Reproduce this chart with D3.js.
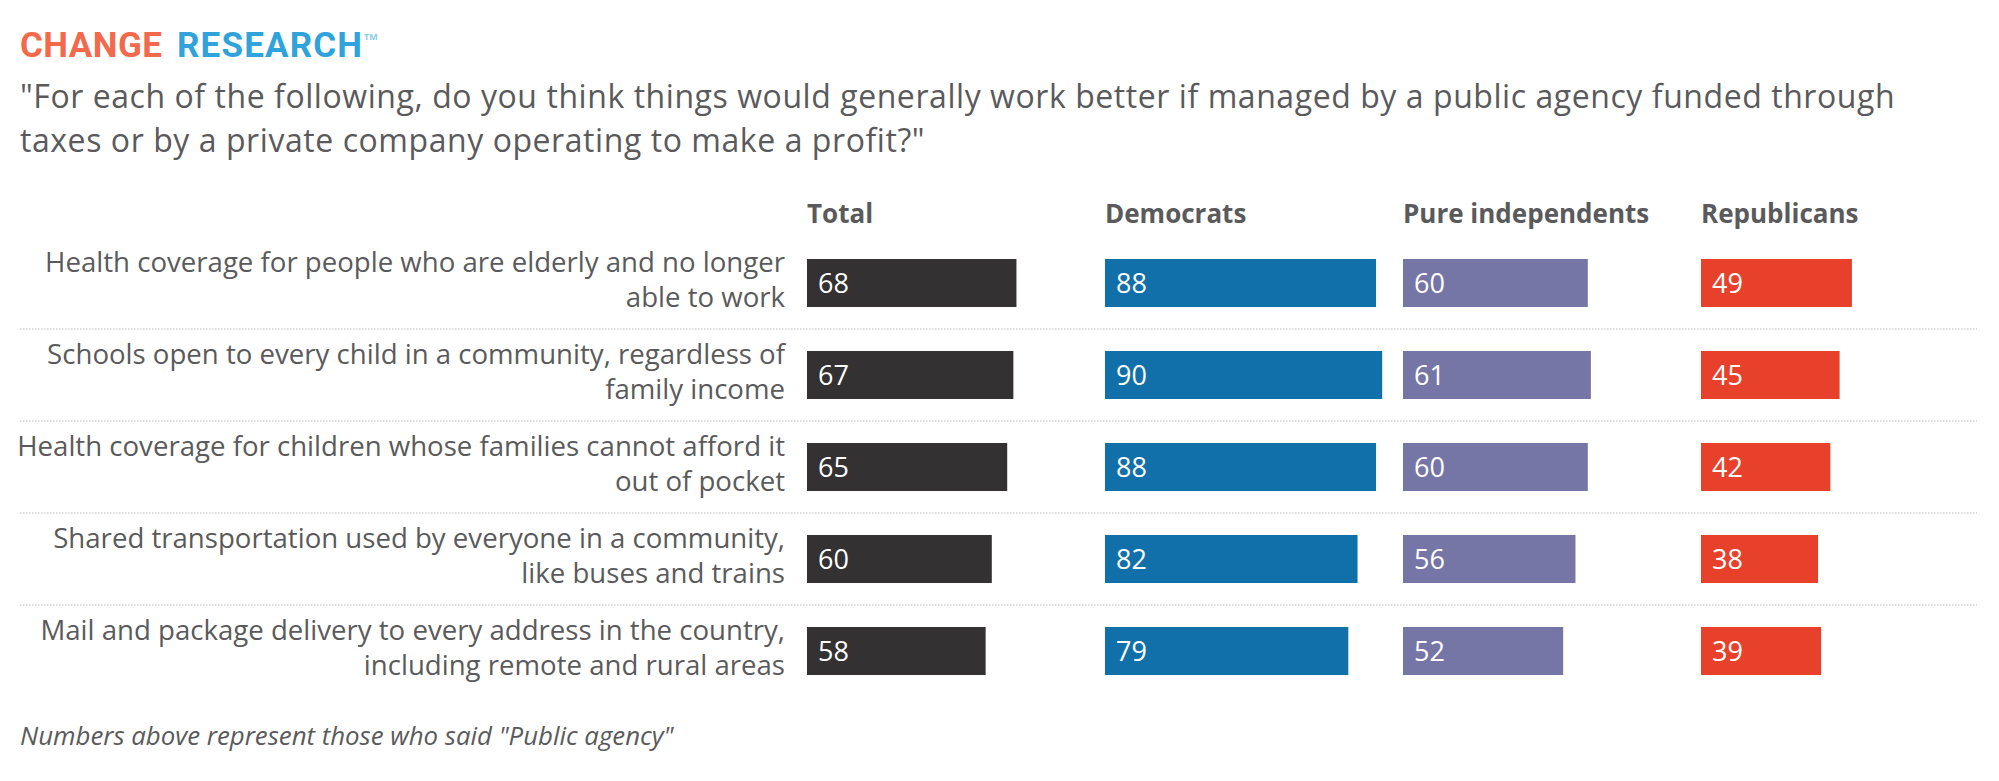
<!DOCTYPE html>
<html lang="en">
<head>
	<meta charset="UTF-8">
	<title>Public agency vs private company</title>
	<script src="https://d3js.org/d3.v7.min.js"></script>
	<style>
		body { margin: 0; background: #fff; }
		svg text { font-family: "Open Sans", Lato, sans-serif; }
	</style>
</head>
<body>
	<svg id="chart" width="1999" height="781"></svg>
	<script>
		// data
		const categories = [
			["Health coverage for people who are elderly and no longer", "able to work"],
			["Schools open to every child in a community, regardless of", "family income"],
			["Health coverage for children whose families cannot afford it", "out of pocket"],
			["Shared transportation used by everyone in a community,", "like buses and trains"],
			["Mail and package delivery to every address in the country,", "including remote and rural areas"]
		];
		const groups = ["Total", "Democrats", "Pure independents", "Republicans"];
		const totalValues = [68, 67, 65, 60, 58];
		const democratValues = [88, 90, 88, 82, 79];
		const independentValues = [60, 61, 60, 56, 52];
		const republicanValues = [49, 45, 42, 38, 39];
		const groupColors = ["#333132", "#1170aa", "#7676a6", "#e8412b"];

		const title = [
			"\"For each of the following, do you think things would generally work better if managed by a public agency funded through",
			"taxes or by a private company operating to make a profit?\""
		];
		const footnote = "Numbers above represent those who said \"Public agency\"";

		const series = [totalValues, democratValues, independentValues, republicanValues];
		const rows = categories.map((c, i) => ({ id: i, label: c }));

		const svg = d3.select("#chart");
		const textColor = "#5a5a5c";

		// logo
		const logo = svg.append("g")
			.style("font-weight", "bold")
			.style("font-size", "35px");
		logo.append("text")
			.attr("x", 20).attr("y", 57)
			.attr("textLength", 142).attr("lengthAdjust", "spacing")
			.attr("fill", "#f26a4b")
			.style("font-family", "Roboto, sans-serif")
			.text("CHANGE");
		logo.append("text")
			.attr("x", 177).attr("y", 57)
			.attr("textLength", 185).attr("lengthAdjust", "spacing")
			.attr("fill", "#2fa3da")
			.style("font-family", "Roboto, sans-serif")
			.text("RESEARCH");
		logo.append("text")
			.attr("x", 364).attr("y", 40)
			.attr("fill", "#8ccbe9")
			.style("font-size", "9px")
			.text("TM");

		// title, one text with a tspan per line
		svg.append("text")
			.attr("fill", textColor)
			.style("font-size", "32px")
			.style("letter-spacing", "0.56px")
			.selectAll("tspan")
			.data(title)
			.enter().append("tspan")
			.attr("x", 20)
			.attr("y", (d, i) => 108 + i * 44)
			.text(d => d);

		// scales
		const y = d3.scaleBand()
			.domain(rows.map(d => d.id))
			.range([237, 697])
			.paddingInner(0.478)
			.paddingOuter(0.239);

		const xGroup = d3.scaleBand()
			.domain(groups)
			.range([807, 807 + 298 * 4]);

		const x = d3.scaleLinear()
			.domain([0, 100])
			.range([0, 308]);

		// separators
		svg.append("g").selectAll("line")
			.data(rows.slice(1))
			.enter().append("line")
			.attr("x1", 20)
			.attr("x2", 1977)
			.attr("y1", d => y(d.id) - (y.step() - y.bandwidth()) / 2)
			.attr("y2", d => y(d.id) - (y.step() - y.bandwidth()) / 2)
			.attr("stroke", "#d2d2d2")
			.attr("stroke-width", 1.5)
			.attr("stroke-dasharray", "1.5,1.5");

		// column headers
		svg.append("g").selectAll("text")
			.data(groups)
			.enter().append("text")
			.attr("x", d => xGroup(d))
			.attr("y", 223)
			.attr("fill", textColor)
			.style("font-weight", "bold")
			.style("font-size", "26px")
			.text(d => d);

		// row labels
		const labels = svg.append("g").selectAll("text")
			.data(rows)
			.enter().append("text")
			.attr("text-anchor", "end")
			.attr("fill", textColor)
			.style("font-size", "27.6px");
		labels.selectAll("tspan")
			.data(d => d.label.map(t => ({ t, id: d.id })))
			.enter().append("tspan")
			.attr("x", 785)
			.attr("y", (d, i) => y(d.id) + 13 + i * 35)
			.text(d => d.t);

		// bars
		groups.forEach((g, gi) => {
			const data = rows.map(r => ({ id: r.id, value: series[gi][r.id] }));
			const col = svg.append("g").attr("class", "col");

			col.selectAll("rect")
				.data(data)
				.enter().append("rect")
				.attr("x", xGroup(g))
				.attr("y", d => y(d.id))
				.attr("width", d => x(d.value))
				.attr("height", y.bandwidth())
				.attr("fill", groupColors[gi]);

			col.selectAll("text")
				.data(data)
				.enter().append("text")
				.attr("x", xGroup(g) + 11)
				.attr("y", d => y(d.id) + y.bandwidth() / 2 + 10)
				.attr("fill", "white")
				.style("font-size", "27px")
				.text(d => d.value);
		});

		// footnote
		svg.append("text")
			.attr("x", 20)
			.attr("y", 745)
			.attr("fill", textColor)
			.style("font-style", "italic")
			.style("font-size", "25.8px")
			.text(footnote);
	</script>
</body>
</html>
